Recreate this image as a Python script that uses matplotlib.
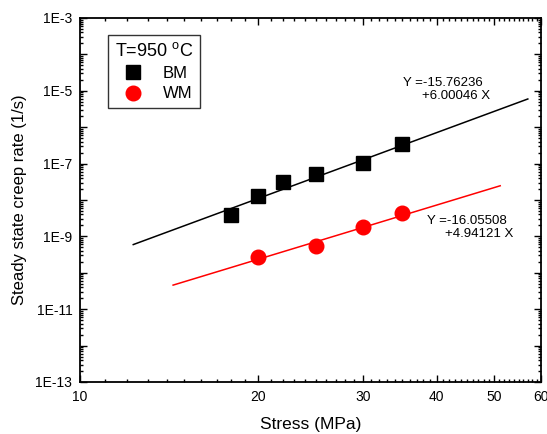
import matplotlib
matplotlib.use("Agg")
import matplotlib.pyplot as plt
import numpy as np
from matplotlib.ticker import FixedLocator, FuncFormatter, LogLocator, NullFormatter

plt.rcParams["font.family"] = ["Liberation Sans", "DejaVu Sans"]

# BM (base metal) measured creep rates
bm_stress = [18, 20, 22, 25, 30, 35]
bm_rate = [3.9e-9, 1.29e-8, 3.1e-8, 5.2e-8, 1.04e-7, 3.45e-7]

# WM (weld metal) measured creep rates
wm_stress = [20, 25, 30, 35]
wm_rate = [2.72e-10, 5.45e-10, 1.81e-9, 4.4e-9]

# fitted lines (end points)
bm_fit_stress = [12.3, 57.0]
bm_fit_rate = [5.96e-10, 5.96e-6]
wm_fit_stress = [14.36, 51.2]
wm_fit_rate = [4.59e-11, 2.46e-8]

bm_fit_text = ["Y =-15.76236", "+6.00046 X"]
wm_fit_text = ["Y =-16.05508", "+4.94121 X"]

x_major = [10, 20, 30, 40, 50, 60]
x_minor = [v for v in range(11, 60) if v not in x_major]

W, H = 547, 434
fig = plt.figure(figsize=(W / 100, H / 100), dpi=100)
ax = fig.add_axes([80 / W, 1 - 382 / H, 461 / W, 364 / H])

ax.plot(bm_fit_stress, bm_fit_rate, color="black", lw=1.1)
ax.plot(wm_fit_stress, wm_fit_rate, color="red", lw=1.1)
ax.plot(bm_stress, bm_rate, "s", color="black", ms=9.5, ls="none", label="BM")
ax.plot(wm_stress, wm_rate, "o", color="red", ms=10.5, ls="none", label="WM")

ax.set_xscale("log")
ax.set_yscale("log")
ax.set_xlim(10, 60)
ax.set_ylim(1e-13, 1e-3)

ax.xaxis.set_major_locator(FixedLocator(x_major))
ax.xaxis.set_minor_locator(FixedLocator(x_minor))
ax.xaxis.set_major_formatter(FuncFormatter(lambda v, p: f"{v:.0f}"))
ax.xaxis.set_minor_formatter(NullFormatter())

ax.yaxis.set_major_locator(LogLocator(base=10, numticks=20))
ax.yaxis.set_minor_locator(LogLocator(base=10, subs=np.arange(2, 10), numticks=20))
ax.yaxis.set_major_formatter(
    FuncFormatter(lambda v, p: f"1E{int(round(np.log10(v)))}" if int(round(np.log10(v))) % 2 else "")
)
ax.yaxis.set_minor_formatter(NullFormatter())

ax.tick_params(which="both", direction="in", top=True, right=True, labelsize=10, width=1)
ax.tick_params(which="major", length=4.8)
ax.tick_params(which="minor", length=2.4)
ax.tick_params(axis="x", which="major", pad=6)
ax.tick_params(axis="y", which="major", pad=5.5)
for s in ax.spines.values():
    s.set_linewidth(1.3)

ax.set_xlabel("Stress (MPa)", fontsize=12.5, labelpad=9)
ax.set_ylabel("Steady state creep rate (1/s)", fontsize=12, labelpad=6)

leg = ax.legend(title="T=950 $^{\\mathregular{o}}$C", loc="upper left",
                bbox_to_anchor=(0.061, 0.953), borderaxespad=0, fontsize=12,
                title_fontsize=13, frameon=True, fancybox=False, edgecolor="black",
                handletextpad=0.8, borderpad=0.4, labelspacing=0.35)
leg.get_frame().set_linewidth(1.0)

ax.text(403 / W, 1 - 83 / H, bm_fit_text[0], transform=fig.transFigure, fontsize=9.5, va="center")
ax.text(422 / W, 1 - 96 / H, bm_fit_text[1], transform=fig.transFigure, fontsize=9.5, va="center")
ax.text(427 / W, 1 - 221 / H, wm_fit_text[0], transform=fig.transFigure, fontsize=9.5, va="center")
ax.text(445 / W, 1 - 234 / H, wm_fit_text[1], transform=fig.transFigure, fontsize=9.5, va="center")

fig.savefig("out.png", dpi=100)
